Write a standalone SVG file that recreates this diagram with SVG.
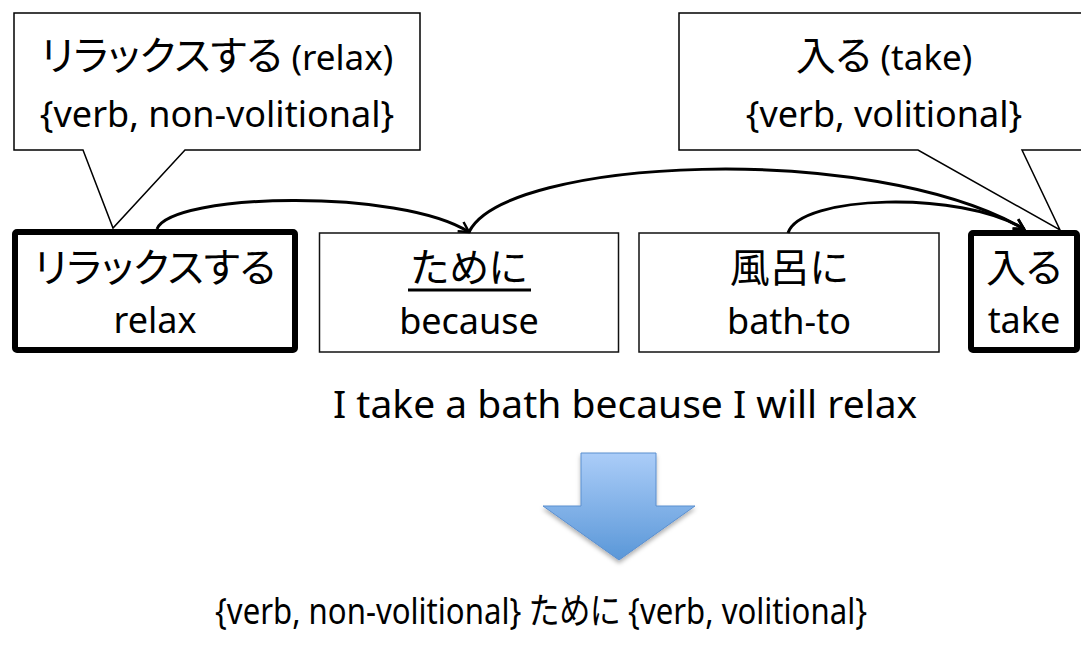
<svg xmlns="http://www.w3.org/2000/svg" width="1081" height="646" viewBox="0 0 1081 646">
<style>
  text { font-family: 'Noto Sans', 'Noto Sans CJK JP', sans-serif; fill: #000; font-feature-settings: "palt"; }
  .callout { fill: #fff; stroke: #000; stroke-width: 1.5; }
  .thin { fill: #fff; stroke: #111; stroke-width: 1.5; }
  .thick { fill: #fff; stroke: #000; stroke-width: 6; }
  .arc { fill: none; stroke: #000; stroke-width: 3; marker-end: url(#arr); }
  .jp { font-size: 40px; }
  .en { font-size: 36px; }
  .mid { text-anchor: middle; }
</style>
<defs>
  <marker id="arr" viewBox="0 0 14 14" refX="12" refY="7" markerWidth="14" markerHeight="14" markerUnits="userSpaceOnUse" orient="auto">
    <path d="M2,1.5 L12,7 L2,12.5" fill="none" stroke="#000" stroke-width="2.5"/>
  </marker>
  <linearGradient id="blue" x1="0" y1="0" x2="0" y2="1">
    <stop offset="0" stop-color="#abcdf8"/>
    <stop offset="1" stop-color="#5a97d8"/>
  </linearGradient>
  <filter id="sh" x="-20%" y="-20%" width="140%" height="150%">
    <feDropShadow dx="0" dy="3" stdDeviation="2" flood-color="#000" flood-opacity="0.3"/>
  </filter>
</defs>

<g id="callout-relax">
  <path class="callout" d="M14,13 H420 V150 H185 L113,228 L83,150 H14 Z"/>
  <text class="mid" x="217" y="70"><tspan class="jp">リラックスする</tspan><tspan font-size="35px"> (relax)</tspan></text>
  <text class="mid en" x="217" y="127">{verb, non-volitional}</text>
</g>

<g id="callout-take">
  <path class="callout" d="M679,13 H1095 V150 H1022 L1060,230 L918,150 H679 Z"/>
  <text class="mid" x="884" y="70"><tspan class="jp">入る</tspan><tspan font-size="35px"> (take)</tspan></text>
  <text class="mid en" x="884" y="127">{verb, volitional}</text>
</g>

<g id="node-relax">
  <rect class="thick" x="15" y="232" width="280" height="118" rx="2"/>
  <text class="mid jp" x="155" y="282">リラックスする</text>
  <text class="mid en" x="155" y="333">relax</text>
</g>

<g id="node-tameni">
  <rect class="thin" x="319.5" y="233" width="299" height="119"/>
  <text class="mid jp" x="469" y="282">ために</text>
  <line x1="408" y1="290" x2="531" y2="290" stroke="#000" stroke-width="3"/>
  <text class="mid en" x="469" y="334">because</text>
</g>

<g id="node-furoni">
  <rect class="thin" x="639" y="233" width="300" height="119"/>
  <text class="mid jp" x="789" y="282">風呂に</text>
  <text class="mid en" x="789" y="334">bath-to</text>
</g>

<g id="node-hairu">
  <rect class="thick" x="971" y="233" width="106" height="117" rx="2"/>
  <text class="mid jp" x="1024" y="282">入る</text>
  <text class="mid en" x="1024" y="333">take</text>
</g>

<g id="connectors">
  <path class="arc" d="M157,229 C172,193 400,188 469,232"/>
  <path class="arc" d="M469,232 C505,158 870,140 1024,229"/>
  <path class="arc" d="M788,233 C800,195 960,190 1024,229"/>
</g>

<g id="sentence">
  <text x="333" y="418" font-size="39px">I take a bath because I will relax</text>
</g>

<g id="down-arrow">
  <polygon points="581,453 656,453 656,506 695,506 619,560 543,506 581,506" fill="url(#blue)" stroke="#5b8fcf" stroke-width="1" filter="url(#sh)"/>
</g>

<g id="pattern">
  <text x="215" y="624" font-size="36px" textLength="652" lengthAdjust="spacingAndGlyphs">{verb, non-volitional} ために {verb, volitional}</text>
</g>
</svg>
